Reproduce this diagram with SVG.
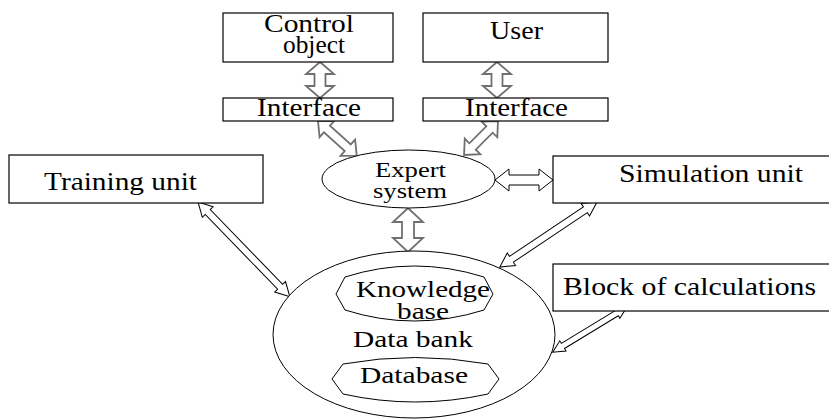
<svg xmlns="http://www.w3.org/2000/svg" width="829" height="419" viewBox="0 0 829 419">
<style>
.box{fill:#fff;stroke:#000;stroke-width:1.2}
.shape{fill:#fff;stroke:#000;stroke-width:1}
.inner{fill:none;stroke:#000;stroke-width:1}
text{fill:#000}
.t25{font-size:25px}
.t24{font-size:24px}
.t22{font-size:21px}
.ga{fill:#fff;stroke:#707070;stroke-width:1.8;stroke-linejoin:miter}
.ba{fill:#fff;stroke:#000;stroke-width:1;stroke-linejoin:miter}
</style>
<rect width="829" height="419" fill="#fff"/>
<g id="connectors">
  <path class="ga" transform="translate(320,62) rotate(90)" d="M0,0 L12,-14 L12,-5.5 L24,-5.5 L24,-14 L36,0 L24,14 L24,5.5 L12,5.5 L12,14 Z"/>
  <path class="ga" transform="translate(497,62) rotate(90)" d="M0,0 L12,-14 L12,-5.5 L24,-5.5 L24,-14 L36,0 L24,14 L24,5.5 L12,5.5 L12,14 Z"/>
  <path class="ga" transform="translate(318,121) rotate(41.9)" d="M0,0 L12,-11 L12,-4.5 L40,-4.5 L40,-11 L52,0 L40,11 L40,4.5 L12,4.5 L12,11 Z"/>
  <path class="ga" transform="translate(498,121) rotate(135)" d="M0,0 L12,-11 L12,-4.5 L36,-4.5 L36,-11 L48,0 L36,11 L36,4.5 L12,4.5 L12,11 Z"/>
  <path class="ga" transform="translate(408,208) rotate(90)" d="M0,0 L14,-15 L14,-6 L30,-6 L30,-15 L44,0 L30,15 L30,6 L14,6 L14,15 Z"/>
  <path class="ba" transform="translate(495,180)" d="M0,0 L14,-11 L14,-5 L44,-5 L44,-11 L58,0 L44,11 L44,5 L14,5 L14,11 Z"/>
  <path class="ba" transform="translate(198,202) rotate(45.9)" d="M0,0 L14,-7.5 L14,-3.5 L118,-3.5 L118,-7.5 L132,0 L118,7.5 L118,3.5 L14,3.5 L14,7.5 Z"/>
  <path class="ba" transform="translate(597,202) rotate(146.2)" d="M0,0 L14,-7.5 L14,-3.5 L103,-3.5 L103,-7.5 L117,0 L103,7.5 L103,3.5 L14,3.5 L14,7.5 Z"/>
  <path class="ba" transform="translate(627,307) rotate(148.7)" d="M0,0 L12,-6 L12,-3 L75,-3 L75,-6 L87,0 L75,6 L75,3 L12,3 L12,6 Z"/>
</g>
<g font-family="Liberation Serif, serif">
<g id="control-object">
  <rect class="box" x="223" y="13" width="170" height="49"/>
  <text class="t25" x="264" y="32" textLength="90" lengthAdjust="spacingAndGlyphs">Control</text>
  <text class="t25" x="283" y="53" textLength="62" lengthAdjust="spacingAndGlyphs">object</text>
</g>
<g id="user">
  <rect class="box" x="423" y="13" width="185" height="49"/>
  <text class="t25" x="490" y="39" textLength="53" lengthAdjust="spacingAndGlyphs">User</text>
</g>
<g id="interface-left">
  <rect class="box" x="223" y="98" width="170" height="23"/>
  <text class="t25" x="257" y="116" textLength="104" lengthAdjust="spacingAndGlyphs">Interface</text>
</g>
<g id="interface-right">
  <rect class="box" x="423" y="98" width="185" height="23"/>
  <text class="t25" x="465" y="116" textLength="103" lengthAdjust="spacingAndGlyphs">Interface</text>
</g>
<g id="training-unit">
  <rect class="box" x="9" y="155" width="254" height="48"/>
  <text class="t25" x="44" y="190" textLength="153" lengthAdjust="spacingAndGlyphs">Training unit</text>
</g>
<g id="simulation-unit">
  <rect class="box" x="553" y="156" width="290" height="47"/>
  <text class="t25" x="619" y="182" textLength="184" lengthAdjust="spacingAndGlyphs">Simulation unit</text>
</g>
<g id="block-of-calculations">
  <rect class="box" x="553" y="264" width="290" height="47"/>
  <text class="t25" x="563" y="295" textLength="253" lengthAdjust="spacingAndGlyphs">Block of calculations</text>
</g>
<g id="expert-system">
  <ellipse class="shape" cx="408.5" cy="179" rx="86.5" ry="29"/>
  <text class="t22" x="375" y="177" textLength="71" lengthAdjust="spacingAndGlyphs">Expert</text>
  <text class="t22" x="373" y="198" textLength="74" lengthAdjust="spacingAndGlyphs">system</text>
</g>
<g id="data-bank">
  <ellipse class="shape" cx="414" cy="334.5" rx="141" ry="83.5"/>
  <text class="t24" x="353" y="347" textLength="120" lengthAdjust="spacingAndGlyphs">Data bank</text>
</g>
<g id="knowledge-base">
  <path class="inner" d="M336,294 L345,277 Q414,255 484,277 L493,294 L484,310 Q414,332 345,310 Z"/>
  <text class="t24" x="356" y="297" textLength="134" lengthAdjust="spacingAndGlyphs">Knowledge</text>
  <text class="t24" x="397" y="319" textLength="52" lengthAdjust="spacingAndGlyphs">base</text>
</g>
<g id="database">
  <path class="inner" d="M332,379 L343,364 Q415,351 488,364 L499,379 L488,394 Q415,410 343,394 Z"/>
  <text class="t24" x="360" y="383" textLength="108" lengthAdjust="spacingAndGlyphs">Database</text>
</g>
</g>
</svg>
